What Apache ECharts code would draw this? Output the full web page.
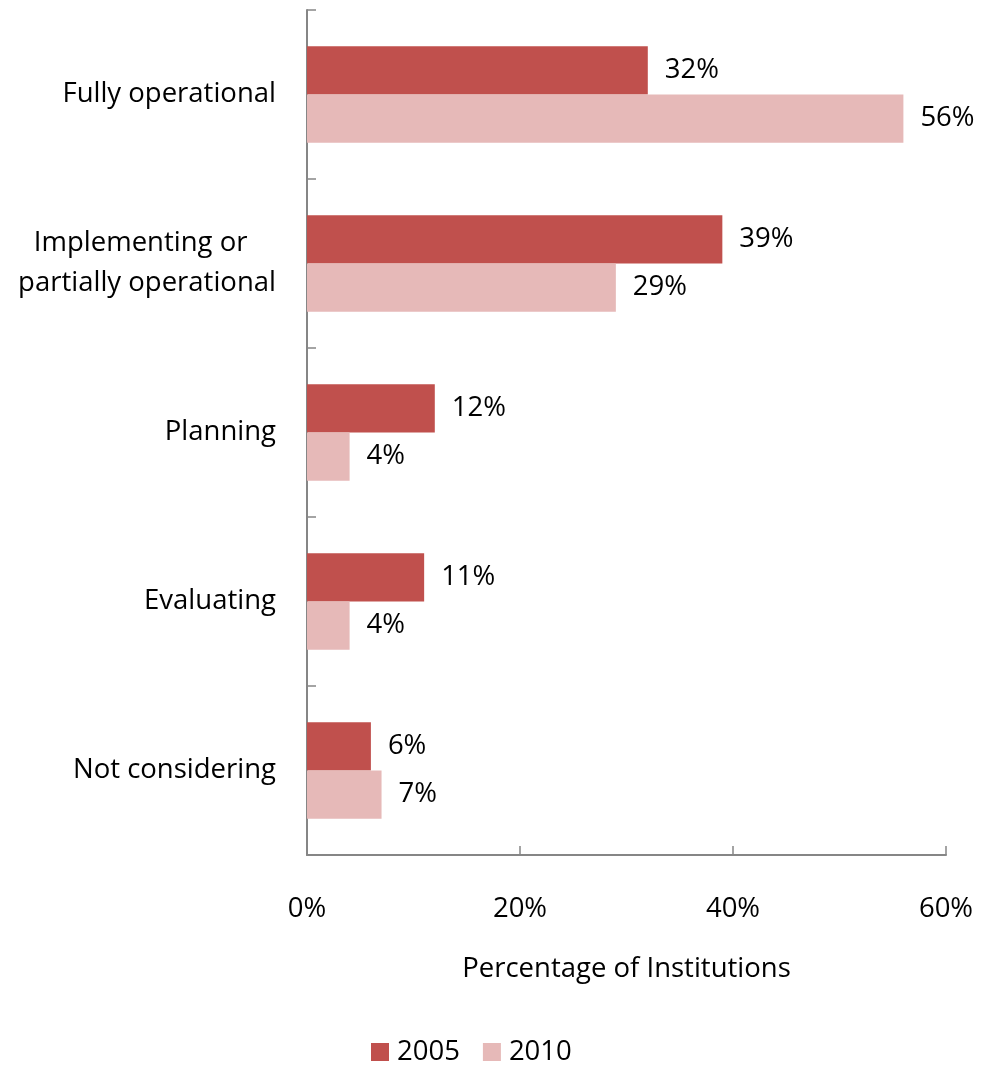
<!DOCTYPE html>
<html>
<head>
<meta charset="utf-8">
<script src="https://cdn.jsdelivr.net/npm/echarts@6/dist/echarts.min.js"></script>
<style>
  html, body { margin: 0; padding: 0; background: #fff; }
  #chart { width: 994px; height: 1065px; }
</style>
</head>
<body>
<div id="chart"></div>
<script>
// Adoption stage categories, top to bottom
const categories = [
  'Fully operational',
  'Implementing or\npartially operational',
  'Planning',
  'Evaluating',
  'Not considering'
];
// Percent of institutions per stage
const values2005 = [32, 39, 12, 11, 6];
const values2010 = [56, 29, 4, 4, 7];
const seriesNames = ['2005', '2010'];
const xTicks = [0, 20, 40, 60];

const FONT = '"Open Sans", Lato, sans-serif';
const FS = 27.5;
const AXIS_GRAY = '#868686';

const chart = echarts.init(document.getElementById('chart'));

const labelStyle = {
  show: true,
  position: 'right',
  distance: 17,
  formatter: p => p.value + '%',
  color: '#000',
  fontFamily: FONT,
  fontSize: FS
};

// Two-line category names: lines sit roughly centred on each other
function categoryLabel(v) {
  const lines = v.split('\n');
  if (lines.length < 2) return v;
  return lines[0] + '\u00a0\u00a0\u00a0\u00a0\n' + lines.slice(1).join('\n');
}

chart.setOption({
  animation: false,
  grid: { left: 307, right: 48, top: 10, bottom: 210, containLabel: false },
  legend: {
    bottom: -6,
    left: 366,
    itemWidth: 18,
    itemHeight: 18,
    itemGap: 23,
    icon: 'rect',
    textStyle: { fontFamily: FONT, fontSize: FS, color: '#000', padding: [0, 0, 0, 3] },
    data: seriesNames
  },
  xAxis: {
    type: 'value',
    min: xTicks[0],
    max: xTicks[xTicks.length - 1],
    interval: 20,
    name: 'Percentage of Institutions',
    nameLocation: 'middle',
    nameGap: 100,
    nameTextStyle: { fontFamily: FONT, fontSize: FS, color: '#000' },
    axisLine: { show: true, lineStyle: { color: AXIS_GRAY, width: 2 } },
    axisTick: { show: true, inside: true, length: 9, lineStyle: { color: AXIS_GRAY, width: 1.5 } },
    axisLabel: {
      margin: 40,
      formatter: v => v + '%',
      fontFamily: FONT, fontSize: FS, color: '#000'
    },
    splitLine: { show: false }
  },
  yAxis: {
    type: 'category',
    inverse: true,
    data: categories,
    axisLine: { show: true, lineStyle: { color: AXIS_GRAY, width: 2 } },
    axisTick: { show: true, inside: true, length: 9, lineStyle: { color: AXIS_GRAY, width: 1.5 } },
    axisLabel: {
      margin: 31,
      formatter: categoryLabel,
      fontFamily: FONT, fontSize: FS, color: '#000',
      lineHeight: 40, align: 'right'
    }
  },
  series: [
    {
      name: seriesNames[0],
      type: 'bar',
      data: values2005,
      barGap: '0%',
      barCategoryGap: '43%',
      itemStyle: { color: '#C0504D' },
      label: labelStyle
    },
    {
      name: seriesNames[1],
      type: 'bar',
      data: values2010,
      barGap: '0%',
      barCategoryGap: '43%',
      itemStyle: { color: '#E6B9B8' },
      label: labelStyle
    }
  ]
});
</script>
</body>
</html>
